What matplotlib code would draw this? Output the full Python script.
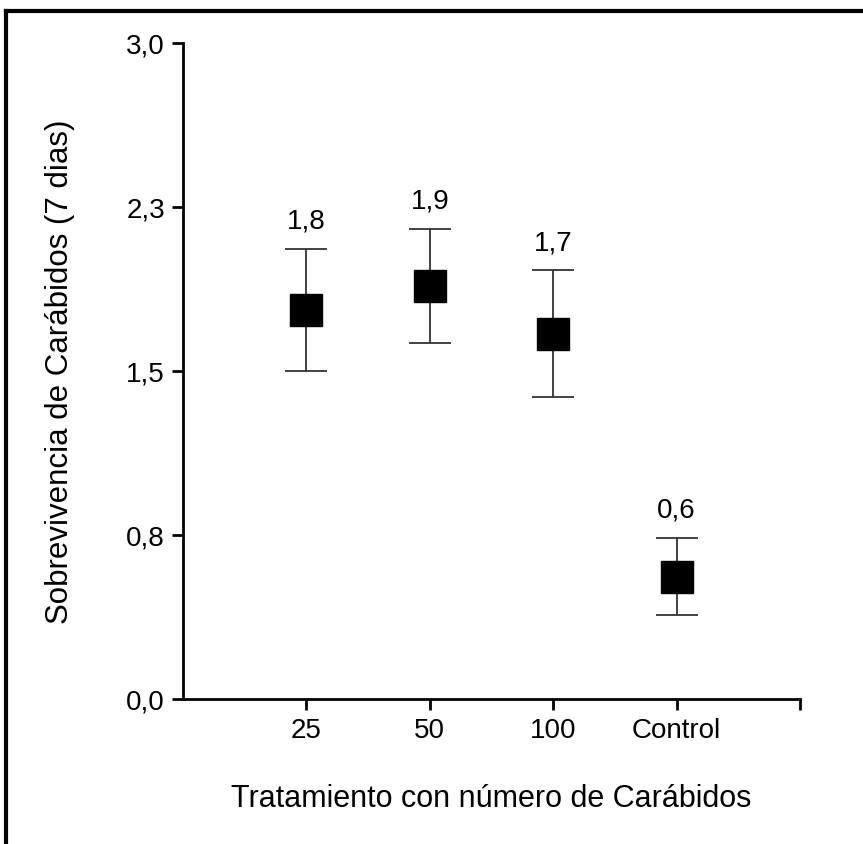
import matplotlib
matplotlib.use("Agg")
import matplotlib.pyplot as plt
from matplotlib.lines import Line2D

plt.rcParams['font.family'] = ['Liberation Sans', 'DejaVu Sans']

categories = ["25", "50", "100", "Control"]
means = [1.78, 1.89, 1.67, 0.56]
errors = [0.28, 0.26, 0.29, 0.175]
ytick_values = [0.0, 0.75, 1.5, 2.25, 3.0]
ytick_labels = ["0,0", "0,8", "1,5", "2,3", "3,0"]

fig = plt.figure(figsize=(8.63, 8.45), dpi=100)
ax = fig.add_axes([0.212, 0.1716, 0.715, 0.7764])

positions = list(range(1, len(categories) + 1))
ax.errorbar(positions, means, yerr=errors, fmt='none', ecolor='#333333',
            elinewidth=1.3, capsize=15, capthick=1.3, zorder=2)
ax.plot(positions, means, linestyle='none', marker='s', markersize=22.5,
        color='black', zorder=3)

for x, m, e in zip(positions, means, errors):
    ax.annotate(f"{m:.1f}".replace('.', ','), (x, m + e), xytext=(0, 11),
                textcoords='offset points', ha='center', va='bottom',
                fontsize=20)

ax.set_xlim(0, 5)
ax.set_ylim(0, 3.0)
ax.set_xticks(positions + [5])
ax.set_xticklabels(categories + [""], fontsize=20)
ax.set_yticks(ytick_values)
ax.set_yticklabels(ytick_labels, fontsize=20)

for side in ('top', 'right'):
    ax.spines[side].set_visible(False)
for side in ('left', 'bottom'):
    ax.spines[side].set_linewidth(2)
ax.tick_params(axis='both', direction='out', length=8, width=2, pad=5)

ax.set_xlabel("Tratamiento con número de Carábidos", fontsize=22, labelpad=29)
ax.set_ylabel("Sobrevivencia de Carábidos (7 dias)", fontsize=22.5, labelpad=37)

# outer frame: top and left edges
fig.add_artist(Line2D([0.007, 1.0], [0.986, 0.986], transform=fig.transFigure,
                      color='black', linewidth=3))
fig.add_artist(Line2D([0.007, 0.007], [0.0, 0.986], transform=fig.transFigure,
                      color='black', linewidth=3))

fig.savefig("out.png", dpi=100)
